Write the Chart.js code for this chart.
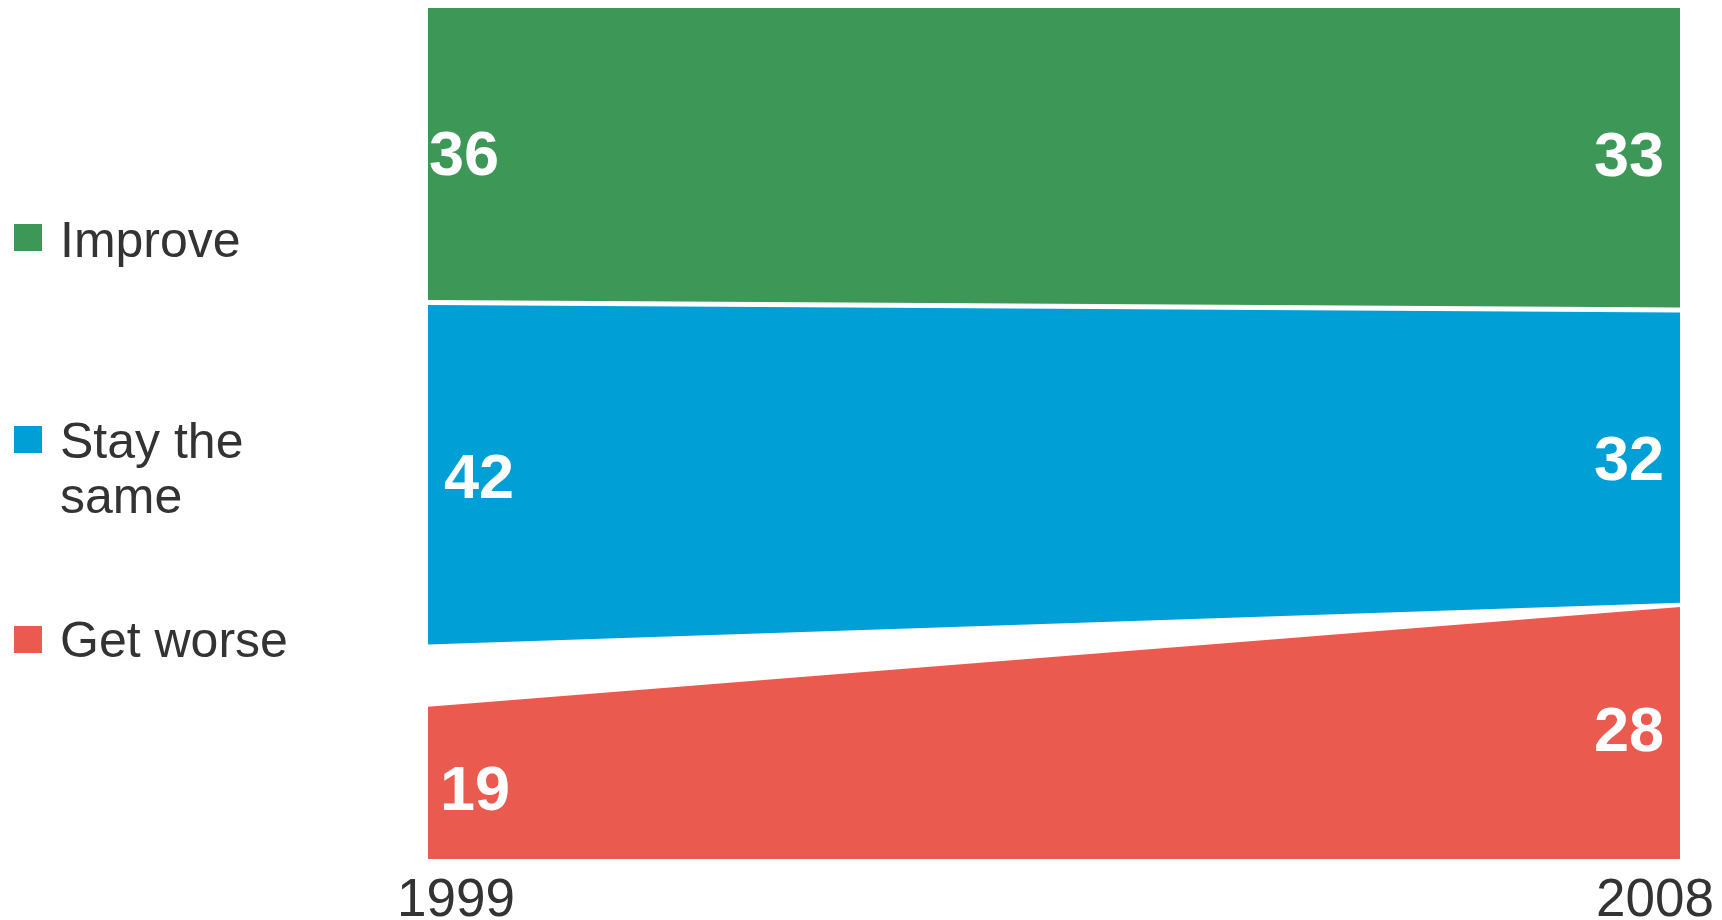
<!DOCTYPE html>
<html>
<head>
<meta charset="utf-8">
<script src="https://cdn.jsdelivr.net/npm/chart.js@4.4.1/dist/chart.umd.min.js"></script>
<style>
  html, body { margin: 0; padding: 0; background: #fff; }
  #wrap { width: 1722px; height: 920px; position: relative; }
</style>
</head>
<body>
<div id="wrap"><canvas id="chart" width="1722" height="920"></canvas></div>
<script>
/* Outlook chart: stacked bands 1999 -> 2008 */

var years = ['1999', '2008'];
var seriesNames = ['Improve', 'Stay the same', 'Get worse'];
var legendLines = [['Improve'], ['Stay the', 'same'], ['Get worse']];

// percentages printed on the bands
var improveValues = [36, 33];
var sameValues = [42, 32];
var worseValues = [19, 28];

// band heights as drawn in the picture (share of full height, bottom-up)
var worseBand = [17.9, 29.6];
var gapBand = [7.3, 0.5];
var sameBand = [40.2, 34.4];
var improveBand = [34.6, 35.5];

var COLORS = {
  improve: '#3d9858',
  same: '#009fd6',
  worse: '#eb5a4e',
  text: '#333333'
};
var FONT = '"Liberation Sans", Arial, Helvetica, sans-serif';

function stackTop(bands, i) {
  var total = 0;
  for (var k = 0; k < bands.length; k++) total += bands[k][i];
  return total;
}

var overlayPlugin = {
  id: 'overlay',
  afterDraw: function(chart) {
    var ctx = chart.ctx;
    var x = chart.scales.x;
    var y = chart.scales.y;
    var area = chart.chartArea;
    var stack = [worseBand, gapBand, sameBand, improveBand];
    // nudges: [left dx, left dy, right dy]
    var labelSets = [
      { vals: improveValues, idx: 3, nudge: [-9, 2, 0] },
      { vals: sameValues, idx: 2, nudge: [6, 7, 6] },
      { vals: worseValues, idx: 0, nudge: [2, 10, 1] }
    ];

    ctx.save();
    ctx.fillStyle = '#fff';
    ctx.font = 'bold 63px ' + FONT;
    ctx.textBaseline = 'middle';
    labelSets.forEach(function(set) {
      for (var i = 0; i < years.length; i++) {
        var lo = stackTop(stack.slice(0, set.idx), i);
        var hi = lo + stack[set.idx][i];
        var cy = (y.getPixelForValue(lo) + y.getPixelForValue(hi)) / 2;
        var px = x.getPixelForValue(i);
        if (i === 0) {
          ctx.textAlign = 'center';
          ctx.fillText(String(set.vals[i]), px + 45 + set.nudge[0], cy + set.nudge[1]);
        } else {
          ctx.textAlign = 'right';
          ctx.fillText(String(set.vals[i]), px - 16, cy + set.nudge[2]);
        }
      }
    });

    // year labels
    ctx.fillStyle = COLORS.text;
    ctx.font = '53px ' + FONT;
    ctx.textBaseline = 'alphabetic';
    ctx.textAlign = 'left';
    ctx.fillText(years[0], area.left - 31, 916);
    ctx.textAlign = 'right';
    ctx.fillText(years[1], area.right + 34, 916);

    // legend
    var swatches = [COLORS.improve, COLORS.same, COLORS.worse];
    var boxTops = [224, 426, 626];
    var baselines = [257, 458, 657];
    ctx.font = '50px ' + FONT;
    ctx.textAlign = 'left';
    for (var j = 0; j < legendLines.length; j++) {
      ctx.fillStyle = swatches[j];
      ctx.fillRect(14, boxTops[j], 28, 27);
      ctx.fillStyle = COLORS.text;
      for (var l = 0; l < legendLines[j].length; l++) {
        ctx.fillText(legendLines[j][l], 60, baselines[j] + l * 55);
      }
    }
    ctx.restore();
  }
};

new Chart(document.getElementById('chart').getContext('2d'), {
  type: 'line',
  data: {
    labels: years,
    datasets: [
      {
        label: seriesNames[2],
        data: worseBand,
        backgroundColor: COLORS.worse,
        borderWidth: 0,
        fill: 'origin'
      },
      {
        label: 'gap',
        data: gapBand,
        backgroundColor: 'rgba(0,0,0,0)',
        borderWidth: 0,
        fill: false
      },
      {
        label: seriesNames[1],
        data: sameBand,
        backgroundColor: COLORS.same,
        borderColor: '#ffffff',
        borderWidth: 5,
        fill: '-1'
      },
      {
        label: seriesNames[0],
        data: improveBand,
        backgroundColor: COLORS.improve,
        borderWidth: 0,
        fill: '-1'
      }
    ]
  },
  options: {
    responsive: false,
    animation: false,
    devicePixelRatio: 1,
    elements: {
      line: { tension: 0 },
      point: { radius: 0, hoverRadius: 0 }
    },
    layout: { padding: { left: 428, right: 42, top: 8, bottom: 61 } },
    scales: {
      x: { display: false, offset: false },
      y: { display: false, stacked: true, min: 0, max: 100 }
    },
    plugins: {
      legend: { display: false },
      tooltip: { enabled: false }
    }
  },
  plugins: [overlayPlugin]
});
</script>
</body>
</html>
